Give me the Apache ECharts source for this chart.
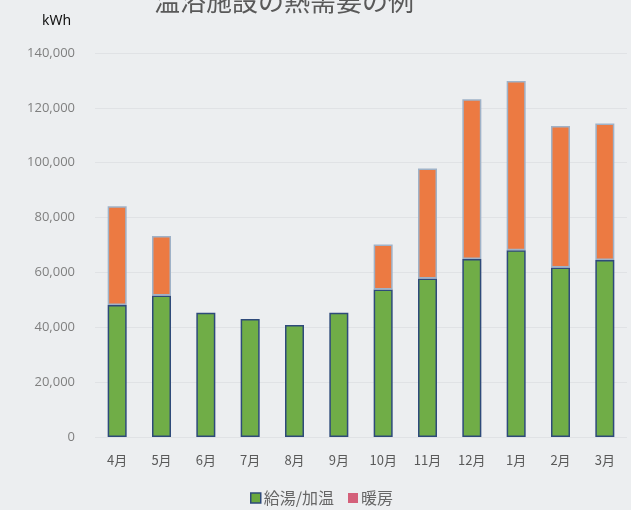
<!DOCTYPE html>
<html>
<head>
<meta charset="utf-8">
<script src="https://cdn.jsdelivr.net/npm/echarts@6/dist/echarts.min.js"></script>
<style>
html,body{margin:0;padding:0;background:#eceef0;}
#c{width:631px;height:510px;}
</style>
</head>
<body>
<div id="c"></div>
<script>
const months = ['4月','5月','6月','7月','8月','9月','10月','11月','12月','1月','2月','3月'];
const hotWater = [48100, 51600, 45300, 43000, 40800, 45300, 53800, 57800, 64900, 68100, 61800, 64500];
const heating = [36000, 21700, null, null, null, null, 16400, 40100, 58200, 61700, 51600, 49800];
const yTicks = [0, 20000, 40000, 60000, 80000, 100000, 120000, 140000];
const seriesNames = ['給湯/加温', '暖房'];

const chart = echarts.init(document.getElementById('c'));
chart.setOption({
  backgroundColor: '#eceef0',
  animation: false,
  title: {
    text: '温浴施設の熱需要の例',
    left: 149, top: -17,
    textStyle: {fontSize: 26, fontWeight: 'normal', color: '#595959', fontFamily: 'Noto Sans CJK JP'}
  },
  graphic: [{
    type: 'text', left: 42, top: 14,
    style: {text: 'kWh', fontSize: 14, fill: '#111', fontFamily: 'Noto Sans'}
  }],
  legend: {
    top: 485, left: 245,
    itemWidth: 10, itemHeight: 10, itemGap: 14,
    icon: 'rect',
    textStyle: {fontSize: 16, color: '#666', fontFamily: 'Noto Sans CJK JP', padding: [0,0,0,-2]},
    data: [
      {name: seriesNames[0], itemStyle: {color: '#6aa83e', borderColor: '#2e4a7a', borderWidth: 1.5}},
      {name: seriesNames[1], itemStyle: {color: '#d4607a', borderWidth: 0}}
    ]
  },
  grid: {left: 95, right: 4, top: 53, bottom: 73, containLabel: false},
  xAxis: {
    type: 'category', data: months,
    axisLine: {show: false}, axisTick: {show: false},
    axisLabel: {color: '#595959', fontSize: 13, margin: 17, fontFamily: 'Noto Sans CJK JP'}
  },
  yAxis: {
    type: 'value', min: 0, max: yTicks[yTicks.length-1], interval: 20000,
    axisLine: {show: false}, axisTick: {show: false},
    splitLine: {lineStyle: {color: '#e0e2e5', width: 1}},
    axisLabel: {
      color: '#7f7f7f', fontSize: 13, margin: 20, fontFamily: 'Open Sans',
      formatter: v => v.toLocaleString('en-US')
    }
  },
  series: [
    {
      name: seriesNames[0], type: 'bar', stack: 'a', barWidth: 19, data: hotWater,
      itemStyle: {color: '#70ad47', borderColor: '#2e4a7a', borderWidth: 1.5}
    },
    {
      name: seriesNames[1], type: 'bar', stack: 'a', barWidth: 19, data: heating,
      itemStyle: {color: '#ec7a42', borderColor: '#9fb2c8', borderWidth: 1.5}
    }
  ]
});
</script>
</body>
</html>
